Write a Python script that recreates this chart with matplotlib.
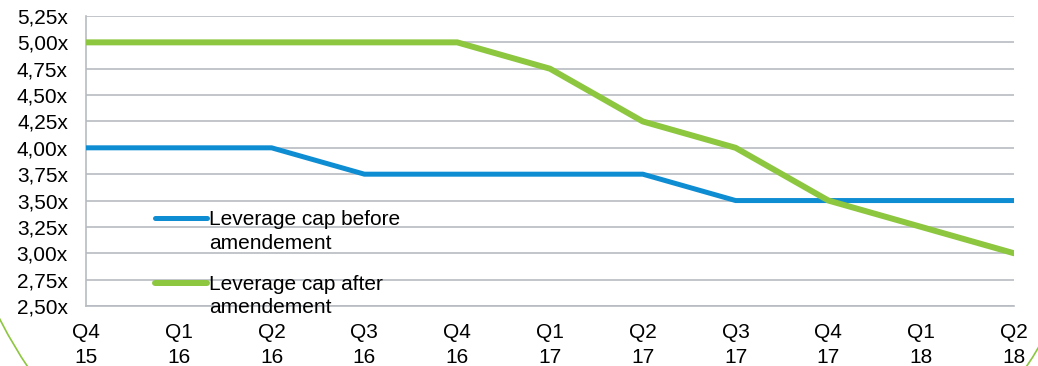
import numpy as np
import matplotlib.pyplot as plt
from matplotlib.patches import Ellipse
from matplotlib.ticker import FuncFormatter
from matplotlib.legend_handler import HandlerLine2D

plt.rcParams['font.family'] = ['Liberation Sans', 'DejaVu Sans']

quarters = ['Q4\n15', 'Q1\n16', 'Q2\n16', 'Q3\n16', 'Q4\n16', 'Q1\n17',
            'Q2\n17', 'Q3\n17', 'Q4\n17', 'Q1\n18', 'Q2\n18']
cap_before = [4.00, 4.00, 4.00, 3.75, 3.75, 3.75, 3.75, 3.50, 3.50, 3.50, 3.50]
cap_after = [5.00, 5.00, 5.00, 5.00, 5.00, 4.75, 4.25, 4.00, 3.50, 3.25, 3.00]
y_ticks = [2.50, 2.75, 3.00, 3.25, 3.50, 3.75, 4.00, 4.25, 4.50, 4.75, 5.00, 5.25]

BLUE = '#0E8DD3'
GREEN = '#8DC63F'
GRID = '#B7BCC2'
FS = 15
LEG_LS = 1.3


class TopLineHandler(HandlerLine2D):
    # put the legend line next to the first row of a two-row label
    def create_artists(self, *args, **kwargs):
        artists = super().create_artists(*args, **kwargs)
        for a in artists:
            a.set_ydata(np.asarray(a.get_ydata()) + 0.5 * LEG_LS * FS)
        return artists


fig = plt.figure(figsize=(10.38, 3.66), dpi=100)
ax = fig.add_axes([86 / 1038, 1 - 306 / 366, 928 / 1038, 290 / 366])

x = np.arange(len(quarters))
ax.plot(x, cap_before, color=BLUE, lw=3.6, solid_capstyle='round',
        label='Leverage cap before\namendement', zorder=3)
ax.plot(x, cap_after, color=GREEN, lw=4.3, solid_capstyle='round',
        label='Leverage cap after\namendement', zorder=3)

ax.set_xlim(0, len(quarters) - 1)
ax.set_ylim(y_ticks[0], y_ticks[-1])
ax.set_xticks(x)
ax.set_xticklabels(quarters, fontsize=FS, linespacing=1.4)
ax.set_yticks(y_ticks)
ax.yaxis.set_major_formatter(FuncFormatter(lambda v, p: f'{v:.2f}x'.replace('.', ',')))
ax.tick_params(axis='y', labelsize=FS, length=0, pad=13)
ax.tick_params(axis='x', length=0, pad=12)

ax.grid(axis='y', color=GRID, lw=1.2)
ax.set_axisbelow(True)
for side in ['top', 'right']:
    ax.spines[side].set_visible(False)
for side in ['left', 'bottom']:
    ax.spines[side].set_color(GRID)
    ax.spines[side].set_linewidth(1.2)

leg = ax.legend(loc='upper left', bbox_to_anchor=(0.074, 0.33), frameon=False,
                fontsize=FS, handlelength=2.5, handletextpad=0.1, borderpad=0,
                borderaxespad=0, labelspacing=1.05,
                handler_map={plt.Line2D: TopLineHandler()})
for t in leg.get_texts():
    t.set_linespacing(LEG_LS)

# decorative arc at the bottom corners
fig.add_artist(Ellipse((527 / 1038, 266 / 366), 1162 / 1038, 1044 / 366,
                       transform=fig.transFigure, fill=False,
                       edgecolor=GREEN, lw=1.2))

fig.savefig('out.png', dpi=100)
